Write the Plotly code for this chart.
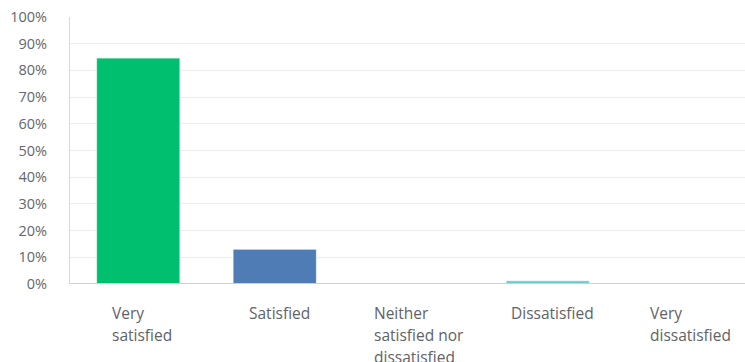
import plotly.graph_objects as go

categories = ["Very satisfied", "Satisfied", "Neither satisfied nor dissatisfied", "Dissatisfied", "Very dissatisfied"]
label_lines = [["Very", "satisfied"], ["Satisfied"], ["Neither", "satisfied nor", "dissatisfied"], ["Dissatisfied"], ["Very", "dissatisfied"]]
values = [84.6, 13.0, 0.0, 1.2, 0.0]
colors = ["#00bf6f", "#507cb6", "#f9be00", "#6bc8cd", "#d25f90"]
tick_vals = [0, 10, 20, 30, 40, 50, 60, 70, 80, 90, 100]
tick_text = [f"{v}%" for v in tick_vals]
label_xshift = [-28, -28, -39, -39, -36]

fig = go.Figure()
fig.add_trace(go.Bar(
    x=list(range(len(categories))), y=values,
    marker=dict(color=colors, line=dict(color="rgba(255,255,255,0.6)", width=1)),
    hoverinfo="skip", width=0.61,
))

annotations = []
for i, lines in enumerate(label_lines):
    for j, line in enumerate(lines):
        annotations.append(dict(
            x=i, xref="x", y=0, yref="paper", xanchor="left", yanchor="middle",
            xshift=label_xshift[i], yshift=-29 - 22 * j, text=line, showarrow=False,
            font=dict(family="Open Sans", size=15.5, color="#5f6368"),
        ))

fig.update_layout(
    width=745, height=362,
    margin=dict(l=70, r=0, t=17, b=78),
    plot_bgcolor="white", paper_bgcolor="white",
    showlegend=False,
    annotations=annotations,
    xaxis=dict(range=[-0.5, 4.445], showticklabels=False, showgrid=False,
               zeroline=False, showline=False, fixedrange=True),
    yaxis=dict(range=[0, 100], tickvals=tick_vals, ticktext=tick_text,
               showgrid=True, gridcolor="#ececec", gridwidth=1,
               zeroline=False, showline=True, linecolor="#d9d9d9", linewidth=1,
               ticks="", ticklen=0, ticklabelstandoff=19,
               tickfont=dict(family="Open Sans", size=14.5, color="#63676d")),
    shapes=[dict(type="line", xref="paper", yref="y", x0=0, x1=1, y0=0, y1=0,
                 line=dict(color="#d0d0d0", width=2))],
)

fig.write_html("out.html")
